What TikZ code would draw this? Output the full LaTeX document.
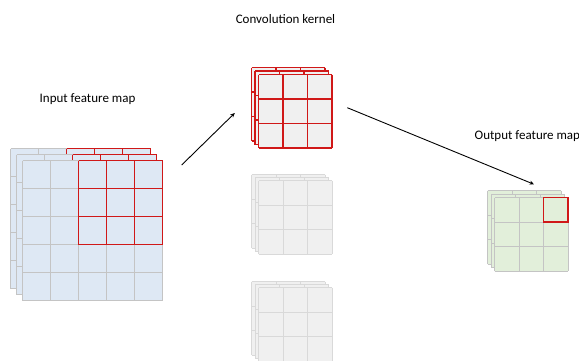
\documentclass[tikz,border=0pt]{standalone}
\usepackage{fontspec}
\setmainfont{Carlito}
\usetikzlibrary{arrows.meta}

\definecolor{mapblue}{HTML}{DEE8F4}
\definecolor{mapgreen}{HTML}{E2EFDA}
\definecolor{kerngray}{HTML}{F0F0F0}
\definecolor{linegray}{HTML}{C4C4C4}
\definecolor{lightline}{HTML}{D9D9D9}
\definecolor{kernred}{HTML}{D01818}

% n x n grid of square cells: corner (#1,#2), #3 cells, cell size #4,
% fill colour #5, line style #6
\newcommand{\cellgrid}[6]{%
  \pgfmathsetmacro\gside{#3*#4}%
  \fill[#5] (#1,#2) rectangle ++(\gside,\gside);
  \foreach \k in {0,...,#3}{%
    \draw[#6] ({#1+\k*#4},#2) -- ++(0,\gside);
    \draw[#6] (#1,{#2+\k*#4}) -- ++(\gside,0);
  }%
}

\tikzset{
  grayline/.style={draw=linegray, line width=1pt},
  softline/.style={draw=lightline, line width=1pt},
  redline/.style={draw=kernred, line width=1.1pt},
  label/.style={inner sep=0pt, font=\fontsize{13}{15}\selectfont},
  flow/.style={line width=0.9pt, -{Stealth[length=4.5pt,width=4pt]}}
}

\begin{document}
\begin{tikzpicture}[x=1pt, y=-1pt]
\useasboundingbox (0,0) rectangle (579,360);

% input feature map: three stacked 5x5 layers with a 3x3 red window
\foreach \ox/\oy in {10.5/148.5, 16.5/154.5, 22.5/160.5}{
  \cellgrid{\ox}{\oy}{5}{28}{mapblue}{grayline}
  \foreach \k in {0,...,3}{
    \draw[redline] ({\ox+56+\k*28},\oy) -- ++(0,84);
    \draw[redline] ({\ox+56},{\oy+\k*28}) -- ++(84,0);
  }
}

% active convolution kernel (red)
\foreach \ox/\oy in {251.5/67.5, 255/71, 258.5/74.5}{
  \cellgrid{\ox}{\oy}{3}{24.5}{kerngray}{redline}
}

% further kernels (grey)
\foreach \ox/\oy in {251.5/174.5, 255/177.5, 258.5/180.5}{
  \cellgrid{\ox}{\oy}{3}{24.5}{kerngray}{softline}
}
\foreach \ox/\oy in {251.5/281.5, 255/284.5, 258.5/287.5}{
  \cellgrid{\ox}{\oy}{3}{24.5}{kerngray}{softline}
}

% output feature map with the computed cell
\foreach \ox/\oy in {487.5/190.5, 491/194, 494.5/197.5}{
  \cellgrid{\ox}{\oy}{3}{24.5}{mapgreen}{grayline}
}
\draw[redline, line width=1.2pt] (543.5,197.5) rectangle (568,222);

% labels
\node[label, anchor=west] (inlabel) at (39.5,99.5) {Input feature map};
\node[label] (kernlabel) at (285.5,19.5) {Convolution kernel};
\node[label, anchor=west] (outlabel) at (474.5,136.5) {Output feature map};

% flow arrows
\coordinate (a1s) at (181.7,165);
\coordinate (a1e) at (234.8,113);
\coordinate (a2s) at (347.3,107.7);
\coordinate (a2e) at (534,184.3);
\draw[flow] (a1s) -- (a1e);
\draw[flow] (a2s) -- (a2e);
\end{tikzpicture}
\end{document}
